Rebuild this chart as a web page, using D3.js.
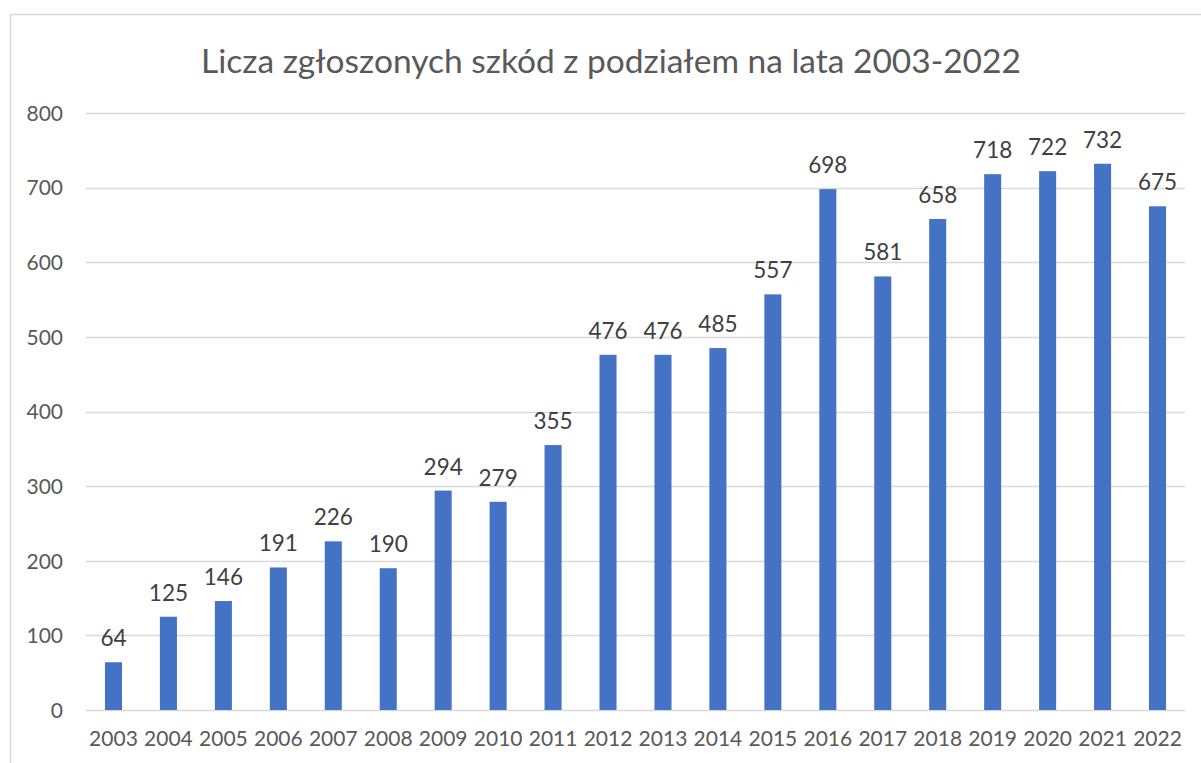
<!DOCTYPE html>
<html>
<head>
<meta charset="utf-8">
<script src="https://cdn.jsdelivr.net/npm/d3@7"></script>
<style>
  body { margin: 0; background: #fff; }
  svg text { font-family: Lato, "Open Sans", sans-serif; }
</style>
</head>
<body>
<div id="chart"></div>
<script>
// Chart data
var years = ["2003", "2004", "2005", "2006", "2007", "2008", "2009", "2010", "2011", "2012",
             "2013", "2014", "2015", "2016", "2017", "2018", "2019", "2020", "2021", "2022"];
var claims = [64, 125, 146, 191, 226, 190, 294, 279, 355, 476,
              476, 485, 557, 698, 581, 658, 718, 722, 732, 675];
var yTicks = [0, 100, 200, 300, 400, 500, 600, 700, 800];
var title = "Licza zgłoszonych szkód z podziałem na lata 2003-2022";

var width = 1201, height = 763;
var margin = { top: 113, right: 16, bottom: 53, left: 86 };

var svg = d3.select("#chart").append("svg")
    .attr("width", width)
    .attr("height", height);

// outer chart frame (runs off the right and bottom edges)
svg.append("rect")
    .attr("x", 10.5).attr("y", 14.5)
    .attr("width", 1300).attr("height", 900)
    .attr("fill", "none")
    .attr("stroke", "#d9d9d9")
    .attr("stroke-width", 1.5);

var x = d3.scaleBand()
    .domain(years)
    .range([margin.left, width - margin.right])
    .paddingInner(0.69)
    .paddingOuter(0.345);

var y = d3.scaleLinear()
    .domain([0, 800])
    .range([height - margin.bottom, margin.top]);

// gridlines
svg.append("g")
  .selectAll("line")
  .data(yTicks)
  .join("line")
    .attr("x1", margin.left)
    .attr("x2", width - margin.right)
    .attr("y1", function(d) { return Math.round(y(d)) + 0.5; })
    .attr("y2", function(d) { return Math.round(y(d)) + 0.5; })
    .attr("stroke", "#d9d9d9")
    .attr("stroke-width", 1.5);

// y axis labels
var yAxis = svg.append("g")
    .attr("transform", "translate(" + (margin.left - 23) + ",0)")
    .call(d3.axisLeft(y).tickValues(yTicks).tickSize(0).tickPadding(0));
yAxis.select(".domain").remove();
yAxis.selectAll("text")
    .attr("fill", "#595959")
    .style("font-size", "21px")
    .attr("dy", "0.35em");

// x axis labels
var xAxis = svg.append("g")
    .attr("transform", "translate(0," + (height - margin.bottom) + ")")
    .call(d3.axisBottom(x).tickSize(0).tickPadding(21));
xAxis.select(".domain").remove();
xAxis.selectAll("text")
    .attr("fill", "#595959")
    .style("font-size", "21px");

// bars
svg.append("g")
  .selectAll("rect")
  .data(claims)
  .join("rect")
    .attr("x", function(d, i) { return x(years[i]); })
    .attr("width", x.bandwidth())
    .attr("y", function(d) { return y(d); })
    .attr("height", function(d) { return y(0) - y(d); })
    .attr("fill", "#4472c4");

// value labels
svg.append("g")
  .selectAll("text")
  .data(claims)
  .join("text")
    .attr("x", function(d, i) { return x(years[i]) + x.bandwidth() / 2; })
    .attr("y", function(d) { return y(d) - 16; })
    .attr("text-anchor", "middle")
    .attr("fill", "#404040")
    .style("font-size", "22.5px")
    .text(function(d) { return d; });

// title
svg.append("text")
    .attr("x", 611)
    .attr("y", 73)
    .attr("text-anchor", "middle")
    .attr("fill", "#595959")
    .style("font-size", "33.5px")
    .text(title);
</script>
</body>
</html>
